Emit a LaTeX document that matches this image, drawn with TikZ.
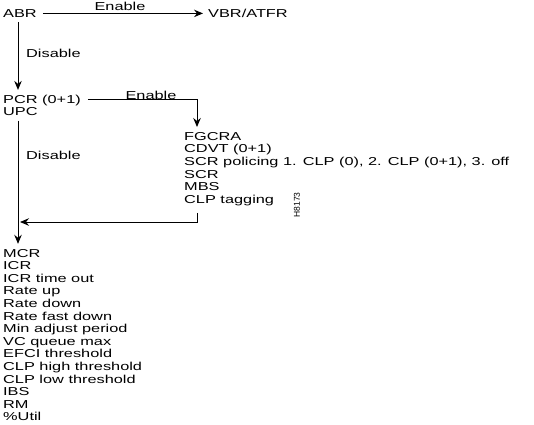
\documentclass[tikz,border=0pt]{standalone}
\usepackage{fontspec}
\setmainfont{Liberation Sans}[FakeStretch=1.42]
\newfontfamily\tagfont{Liberation Sans}
\usetikzlibrary{arrows.meta}

\begin{document}
\begin{tikzpicture}[x=1pt, y=1pt,
    lbl/.style={inner sep=0pt, text height=8.2pt, text depth=0pt, font=\fontsize{11.5}{12.6}\selectfont},
    lst/.style={inner sep=0pt, align=left, font=\fontsize{11.5}{12.6}\selectfont},
    arr/.style={line width=0.9pt, -{Stealth[length=9pt, width=7.5pt, inset=3pt]}}]
                \useasboundingbox (0,0) rectangle (534,-424);
                \coordinate (spine) at (18,0);
                \coordinate (drop) at (197,0);
                \coordinate (merge) at (20,-222);
                \node[lbl, anchor=base west] (abr) at (3,-17.5) {ABR};
                \node[lbl, anchor=base west] (vbr) at (208,-17.5) {VBR/ATFR};
                \node[lbl, anchor=base west] (pcr) at (3,-103.3) {PCR (0+1)};
                \node[lbl, anchor=base west] (upc) at (3,-115.3) {UPC};
                \node[lst, anchor=north west] (scr) at (184,-132) {FGCRA\\CDVT (0+1)\\SCR policing 1. CLP (0), 2. CLP (0+1), 3. off\\SCR\\MBS\\CLP tagging};
                \node[lst, anchor=north west] (rest) at (3,-248.8) {MCR\\ICR\\ICR time out\\Rate up\\Rate down\\Rate fast down\\Min adjust period\\VC queue max\\EFCI threshold\\CLP high threshold\\CLP low threshold\\IBS\\RM\\\%Util};
                \node[lbl] (en1) at (120,-6.5) {Enable};
                \node[lbl] (en2) at (151,-95) {Enable};
                \node[lbl, anchor=west] (dis1) at (26,-53) {Disable};
                \node[lbl, anchor=west] (dis2) at (26,-155) {Disable};
                \node[inner sep=0pt, rotate=90, font=\tagfont\fontsize{8.5}{9}\selectfont] (tag) at (297,-205) {H8173};
                \draw[arr, shorten <=6pt, shorten >=5pt] (abr) -- (vbr);
                \draw[arr] ([yshift=-4.5pt]abr.south -| spine) -- ([yshift=5pt]pcr.north -| spine);
                \draw[arr] ([xshift=7pt]pcr.east) -| ([yshift=5pt]scr.north -| drop);
                \draw[arr] ([yshift=-5pt]upc.south -| spine) -- ([yshift=5pt]rest.north -| spine);
                \draw[arr] ([yshift=-7pt]scr.south -| drop) |- (merge);
            \end{tikzpicture}
\end{document}
